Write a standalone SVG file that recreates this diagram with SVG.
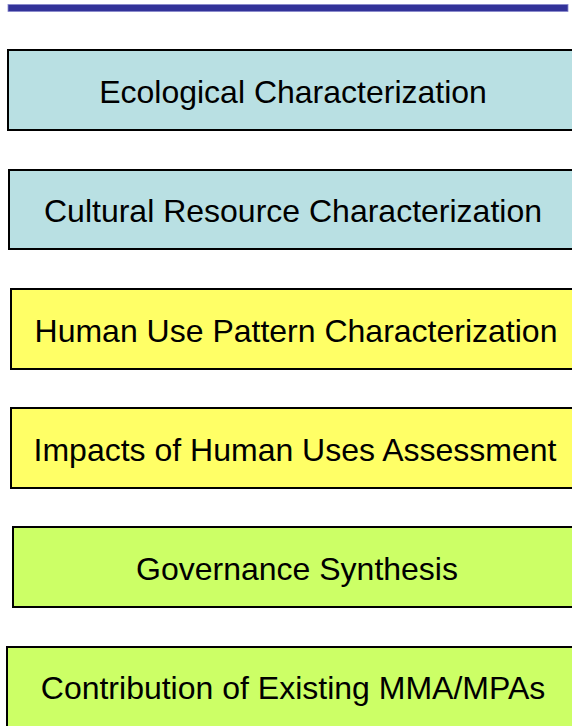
<svg xmlns="http://www.w3.org/2000/svg" width="572" height="726" viewBox="0 0 572 726">
<style>
.box{stroke:#000;stroke-width:2}
.blue{fill:#B9E0E3}
.yellow{fill:#FFFF66}
.green{fill:#CCFF66}
text{font-family:"Liberation Sans",Arial,sans-serif;font-size:32px;fill:#000;text-anchor:middle}
</style>
<rect x="8" y="4.5" width="560" height="7" fill="#333399" stroke="#8888cc" stroke-width="0.8"/>
<g id="n1"><rect class="box blue" x="8" y="50" width="570" height="80"/><text x="293" y="103">Ecological Characterization</text></g>
<g id="n2"><rect class="box blue" x="9" y="170" width="570" height="79"/><text x="293" y="222">Cultural Resource Characterization</text></g>
<g id="n3"><rect class="box yellow" x="11" y="289" width="570" height="80"/><text x="296" y="342">Human Use Pattern Characterization</text></g>
<g id="n4"><rect class="box yellow" x="11" y="408" width="570" height="80"/><text x="295" y="461">Impacts of Human Uses Assessment</text></g>
<g id="n5"><rect class="box green" x="13" y="527" width="570" height="80"/><text x="297" y="580">Governance Synthesis</text></g>
<g id="n6"><rect class="box green" x="7" y="647" width="570" height="90"/><text x="293" y="699">Contribution of Existing MMA/MPAs</text></g>
<g id="connectors"></g>
</svg>
